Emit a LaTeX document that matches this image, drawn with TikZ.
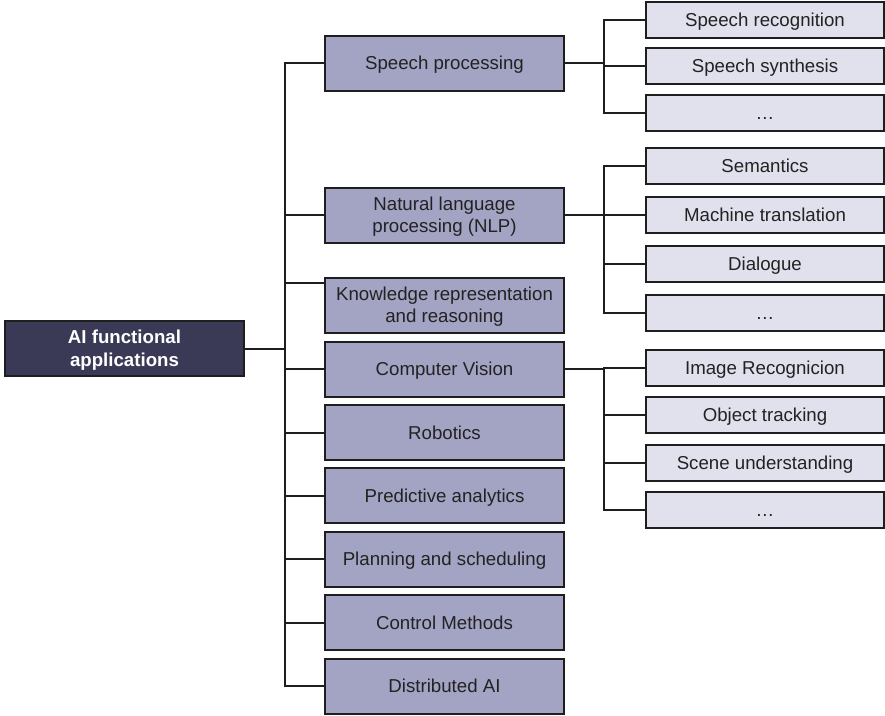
\documentclass[tikz,border=0pt]{standalone}
\usepackage{fontspec}
\setmainfont{Liberation Sans}
\usetikzlibrary{positioning}

\definecolor{rootfill}{HTML}{3A3A56}
\definecolor{areafill}{HTML}{A3A3C4}
\definecolor{taskfill}{HTML}{E1E1EE}
\definecolor{edge}{HTML}{1E1E1E}
\definecolor{txt}{HTML}{222222}

\begin{document}
\begin{tikzpicture}[
		x=0.75pt, y=-0.75pt,
		rootbox/.style={rectangle, draw=edge, line width=1.5pt, fill=rootfill, align=center,
			minimum width=179.25pt, minimum height=41.25pt, inner sep=0pt, text=white,
			text depth=0pt, font=\fontsize{14}{17}\selectfont\bfseries},
		areabox/.style={rectangle, draw=edge, line width=1.5pt, fill=areafill, align=center,
			minimum width=179.25pt, minimum height=41.25pt, inner sep=0pt, text=txt,
			text height=10pt, text depth=0pt, font=\fontsize{14}{16.5}\selectfont},
		twoline/.style={text height={}},
		taskbox/.style={areabox, fill=taskfill, minimum width=178.5pt, minimum height=27pt},
		conn/.style={line width=1.5pt, draw=edge}
	]
	\useasboundingbox (0,0) rectangle (885,715);

	% root
	\node[rootbox] (root) at (124.5,348.5) {AI functional\\applications};

	% application areas
	\node[areabox] (sp) at (444.5,63) {Speech processing};
	\node[areabox, twoline] (nlp) at (444.5,215) {Natural language\\processing (NLP)};
	\node[areabox, twoline] (kr) at (444.5,305) {Knowledge representation\\and reasoning};
	\node[areabox] (cv) at (444.5,369) {Computer Vision};
	\node[areabox] (rob) at (444.5,432.5) {Robotics};
	\node[areabox] (pa) at (444.5,495.5) {Predictive analytics};
	\node[areabox] (ps) at (444.5,559) {Planning and scheduling};
	\node[areabox] (cm) at (444.5,622.5) {Control Methods};
	\node[areabox] (da) at (444.5,686) {Distributed AI};

	% tasks
	\node[taskbox] (sp1) at (765,20) {Speech recognition};
	\node[taskbox] (sp2) at (765,66) {Speech synthesis};
	\node[taskbox] (sp3) at (765,113) {…};
	\node[taskbox] (nlp1) at (765,166) {Semantics};
	\node[taskbox] (nlp2) at (765,215) {Machine translation};
	\node[taskbox] (nlp3) at (765,264) {Dialogue};
	\node[taskbox] (nlp4) at (765,313) {…};
	\node[taskbox] (cv1) at (765,368) {Image Recognicion};
	\node[taskbox] (cv2) at (765,415) {Object tracking};
	\node[taskbox] (cv3) at (765,463) {Scene understanding};
	\node[taskbox] (cv4) at (765,510) {…};

	% bus points
	\coordinate (j0) at (285,348.5);
	\coordinate (jsp) at (604,63);
	\coordinate (jnlp) at (604,215);
	\coordinate (jcv) at (604,369);
	\coordinate (krin) at ([yshift=-4.5pt]kr.north west);

	% main tree
	\draw[conn] (root.east) -- (j0);
	\draw[conn] (sp.west) -| (j0) |- (da.west);
	\foreach \n in {nlp,cv,rob,pa,ps,cm}
		\draw[conn] (\n.west) -- (\n.west -| j0);
	\draw[conn] (krin) -- (krin -| j0);

	% sub trees
	\draw[conn] (sp.east) -- (jsp);
	\draw[conn] (sp1.west) -| (jsp) |- (sp3.west);
	\draw[conn] (sp2.west) -- (sp2.west -| jsp);

	\draw[conn] (nlp.east) -- (jnlp);
	\draw[conn] (nlp1.west) -| (jnlp) |- (nlp4.west);
	\foreach \n in {nlp2,nlp3}
		\draw[conn] (\n.west) -- (\n.west -| jnlp);

	\draw[conn] (cv.east) -- (jcv);
	\draw[conn] (cv1.west) -| (jcv) |- (cv4.west);
	\foreach \n in {cv2,cv3}
		\draw[conn] (\n.west) -- (\n.west -| jcv);
\end{tikzpicture}
\end{document}
